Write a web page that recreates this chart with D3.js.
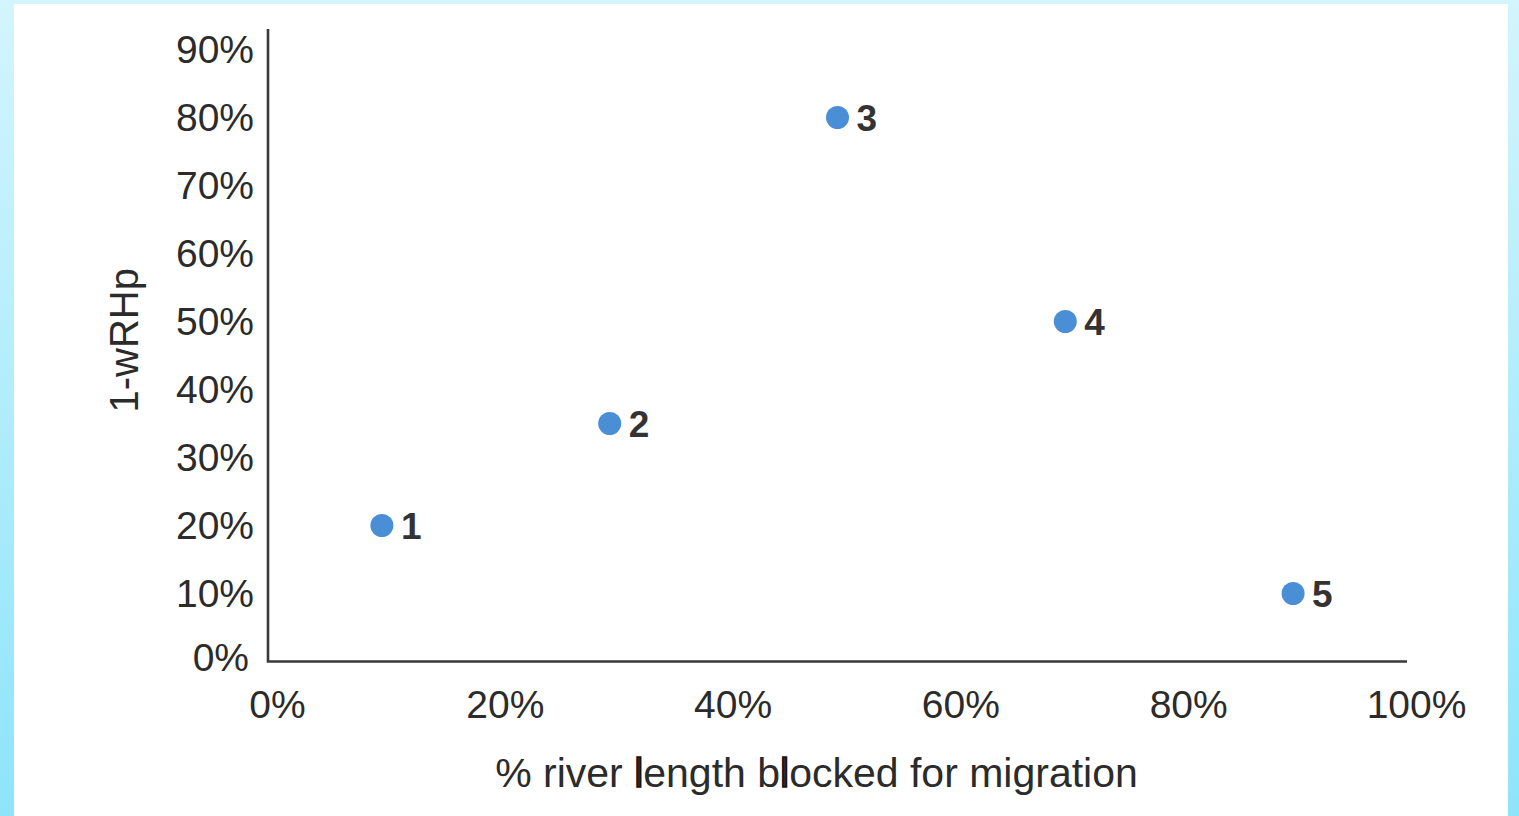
<!DOCTYPE html>
<html>
<head>
<meta charset="utf-8">
<script src="https://cdn.jsdelivr.net/npm/d3@7"></script>
<style>
html,body{margin:0;padding:0;overflow:hidden;}
body{width:1519px;height:816px;}
svg{display:block;}
text{font-family:"Liberation Sans",Arial,Helvetica,sans-serif;}
</style>
</head>
<body>
<svg id="chart" width="1519" height="816"></svg>
<script>
// ---- data ----
const pointLabels = ["1", "2", "3", "4", "5"];
const xValues = [0.10, 0.30, 0.50, 0.70, 0.90];
const yValues = [0.20, 0.35, 0.80, 0.50, 0.10];
const xTicks = [0, 0.2, 0.4, 0.6, 0.8, 1.0];
const yTicks = [0, 0.1, 0.2, 0.3, 0.4, 0.5, 0.6, 0.7, 0.8, 0.9];
const xTitle = "% river length blocked for migration";
const yTitle = "1-wRHp";
const yAxisTop = 0.93;

const svg = d3.select("#chart");
const W = 1519, H = 816;

// background gradient frame
const defs = svg.append("defs");
const grad = defs.append("linearGradient").attr("id","bg").attr("x1",0).attr("y1",0).attr("x2",0).attr("y2",1);
grad.append("stop").attr("offset","0%").attr("stop-color","#d3f5fd");
grad.append("stop").attr("offset","100%").attr("stop-color","#8ee4fb");
svg.append("rect").attr("width",W).attr("height",H).attr("fill","url(#bg)");
svg.append("rect").attr("x",14).attr("y",4).attr("width",1494).attr("height",H-4).attr("fill","#ffffff");

const x = d3.scaleLinear().domain([0,1]).range([268,1407]);
const y = d3.scaleLinear().domain([0,0.9]).range([661.5,49.5]);
const pct = d3.format(".0%");

// y axis
const yAxis = d3.axisLeft(y).tickValues(yTicks).tickFormat(pct).tickSize(0).tickPadding(14);
const gy = svg.append("g").attr("transform",`translate(${x(0)},0)`).call(yAxis);
gy.select(".domain").remove();
gy.selectAll("text").attr("font-size",39).attr("fill","#2b2b2b").attr("dy","0.34em")
  .attr("dx", d => d === 0 ? -5 : 0)
  .attr("transform", d => d === 0 ? "translate(0,-4)" : null)
  .style("font-family",'"Liberation Sans",Arial,sans-serif');

// x axis
const xAxis = d3.axisBottom(x).tickValues(xTicks).tickFormat(pct).tickSize(0).tickPadding(29);
const gx = svg.append("g").attr("transform",`translate(0,${y(0)})`).call(xAxis);
gx.select(".domain").remove();
gx.selectAll("text").attr("font-size",39).attr("fill","#2b2b2b").attr("dx",9)
  .style("font-family",'"Liberation Sans",Arial,sans-serif');

// axis lines
svg.append("path")
  .attr("d", `M${x(0)},${y(yAxisTop)}V${y(0)}H${x(1)}`)
  .attr("fill","none").attr("stroke","#3a3a3a").attr("stroke-width",2.6);

// points
const pts = pointLabels.map((l,i)=>({l, x:xValues[i], y:yValues[i]}));
svg.append("g").selectAll("circle").data(pts).join("circle")
  .attr("cx",d=>x(d.x)).attr("cy",d=>y(d.y)).attr("r",11.5)
  .attr("fill","#4a8fd5");
svg.append("g").selectAll("text").data(pts).join("text")
  .attr("x",d=>x(d.x)+19).attr("y",d=>y(d.y)).attr("dy","0.36em")
  .attr("font-size",37).attr("font-weight","bold").attr("fill","#333333")
  .text(d=>d.l);

// axis titles
const xt = svg.append("text").attr("x",(x(0)+x(1))/2-21).attr("y",772).attr("dy","0.36em")
  .attr("text-anchor","middle").attr("font-size",41).attr("fill","#2b2b2b");
xTitle.split(/(l(?=ength)|l(?=ocked))/).forEach(part=>{
  if(!part) return;
  const t = xt.append("tspan").text(part);
  if(part==="l") t.attr("stroke","#111").attr("stroke-width",1.6);
});

svg.append("text").attr("transform",`translate(124,${(y(0)+y(yAxisTop))/2-5}) rotate(-90)`)
  .attr("dy","0.36em").attr("text-anchor","middle").attr("font-size",40).attr("fill","#2b2b2b")
  .text(yTitle);
</script>
</body>
</html>
